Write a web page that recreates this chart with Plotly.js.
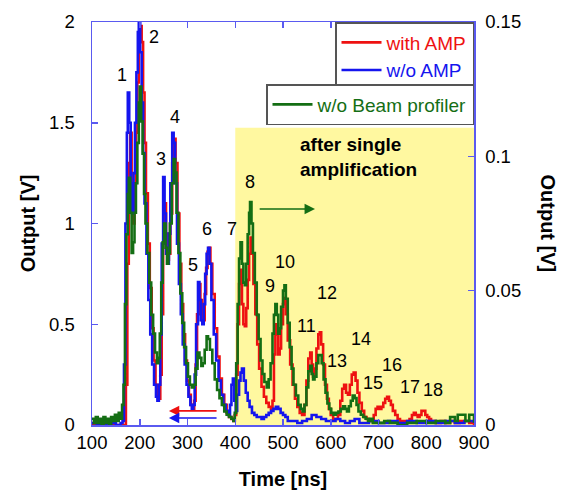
<!DOCTYPE html>
<html>
<head>
<meta charset="utf-8">
<script src="https://cdn.plot.ly/plotly-3.0.1.min.js"></script>
<style>html,body{margin:0;padding:0;background:#fff;}#chart{width:569px;height:491px;}</style>
</head>
<body>
<div id="chart"></div>
<script>
// ---- data: Output [V] vs Time [ns] ----
const timeAmp = [100,168,171,174,177,180,183,186,189,192,195,198,201,204,207,210,213,217,221,225,229,233,237,240,243,246,249,252,255,258,261,264,268,272,275,279,283,287,291,295,299,303,307,311,314,317,320,324,327,330,333,336,339,342,345,348,352,357,362,367,372,377,382,387,392,396,399,402,405,408,411,414,417,420,423,426,429,432,435,438,442,446,450,455,460,465,470,475,478,481,484,487,490,493,496,500,503,506,510,515,520,525,530,535,540,545,549,553,557,560,563,566,570,574,577,580,584,588,592,596,600,605,610,615,620,624,628,632,636,640,644,648,652,656,660,665,670,675,680,686,690,694,698,702,706,710,714,718,722,726,730,735,740,745,750,755,760,765,770,774,778,782,786,790,794,798,802,806,810,820,830,840,850,860,870,880,890,900];
const withAmp = [0,0,0.2,0.8,1.3,1.45,1.2,1.0,1.2,1.45,1.7,1.9,1.98,1.9,1.65,1.4,1.15,0.9,0.68,0.48,0.32,0.2,0.14,0.13,0.25,0.55,0.9,1.1,0.95,0.82,0.85,1.05,1.3,1.42,1.3,1.05,0.8,0.6,0.45,0.32,0.22,0.15,0.1,0.08,0.12,0.3,0.55,0.7,0.62,0.52,0.52,0.65,0.78,0.86,0.88,0.8,0.65,0.48,0.34,0.23,0.15,0.1,0.06,0.04,0.03,0.02,0.05,0.25,0.5,0.7,0.77,0.6,0.5,0.49,0.58,0.72,0.85,0.93,0.85,0.7,0.55,0.4,0.28,0.19,0.14,0.11,0.09,0.08,0.12,0.35,0.5,0.45,0.35,0.38,0.5,0.6,0.63,0.55,0.42,0.3,0.2,0.13,0.09,0.06,0.05,0.1,0.22,0.33,0.36,0.3,0.24,0.28,0.38,0.45,0.46,0.4,0.3,0.2,0.13,0.08,0.05,0.03,0.03,0.05,0.12,0.18,0.2,0.16,0.15,0.2,0.25,0.26,0.22,0.16,0.11,0.07,0.04,0.03,0.02,0.02,0.05,0.08,0.09,0.08,0.09,0.11,0.13,0.14,0.12,0.1,0.07,0.05,0.03,0.02,0.02,0.02,0.02,0.03,0.05,0.06,0.05,0.04,0.05,0.07,0.07,0.05,0.04,0.03,0.02,0.01,0.02,0.01,0.02,0.01,0.02,0.02,0.01,0];

const timeNoAmp = [100,110,120,130,140,150,160,164,167,170,173,175,178,181,184,187,190,193,196,198,201,204,207,210,214,218,222,226,230,234,237,240,243,246,249,252,255,258,261,264,268,271,274,278,282,286,290,294,298,302,306,309,312,315,318,322,325,328,331,334,337,340,343,346,350,355,360,365,370,375,380,385,389,392,395,398,401,404,408,411,414,418,422,426,430,435,440,445,450,455,460,465,470,475,480,485,490,495,500,505,510,520,530,540,550,560,570,580,590,600,610,620,630,640,650,660,680,700,720,740,760,780,800,820,840,860,880,900];
const withoutAmp = [0.01,0,0.01,0,0.01,0,0.01,0.02,0.3,1.0,1.45,1.65,1.5,1.2,1.05,1.25,1.5,1.75,1.95,2.0,1.85,1.6,1.35,1.1,0.85,0.62,0.45,0.3,0.2,0.14,0.12,0.2,0.45,0.9,1.23,1.05,0.85,0.8,0.95,1.2,1.45,1.4,1.2,0.9,0.7,0.55,0.4,0.3,0.2,0.14,0.1,0.08,0.1,0.25,0.5,0.71,0.62,0.52,0.5,0.6,0.75,0.85,0.88,0.8,0.62,0.45,0.32,0.22,0.15,0.1,0.07,0.05,0.1,0.2,0.23,0.12,0.07,0.15,0.22,0.26,0.28,0.22,0.16,0.12,0.09,0.06,0.05,0.04,0.04,0.03,0.04,0.05,0.06,0.07,0.08,0.09,0.08,0.06,0.05,0.04,0.02,0.02,0.01,0.02,0.03,0.05,0.04,0.03,0.02,0.02,0.03,0.02,0.01,0.02,0.03,0.01,0.02,0.01,0.02,0.01,0.02,0.01,0.02,0.01,0.02,0.01,0.02,0.01];

// right axis (0 - 0.15 V)
const timeNoProfiler = [100,104,108,112,116,120,124,128,132,136,140,144,148,152,156,160,163,166,169,172,175,177,180,183,186,189,192,195,198,200,203,206,209,212,216,220,224,228,232,236,239,242,245,248,251,254,257,260,263,267,271,274,277,281,285,289,293,297,301,305,309,313,317,321,325,329,332,336,340,343,347,352,357,362,367,372,377,382,387,392,396,399,402,405,408,411,414,417,420,423,426,429,431,434,437,441,445,449,453,457,461,466,470,474,478,481,484,487,490,493,496,500,503,506,510,514,518,522,527,532,537,541,545,549,553,557,560,563,566,570,574,577,581,585,589,593,597,601,606,611,616,621,626,630,634,638,642,646,650,654,658,663,668,673,678,683,688,700,712,724,740,760,780,800,820,840,850,860,866,875,882,890,900];
const noProfiler = [0.0023,0.0008,0.003,0.0008,0.0023,0,0.003,0.0008,0.0023,0,0.003,0.0015,0.0038,0.0015,0.0045,0.0023,0.0075,0.015,0.045,0.071,0.086,0.092,0.079,0.064,0.068,0.079,0.09,0.105,0.12,0.126,0.113,0.101,0.086,0.075,0.064,0.053,0.041,0.034,0.027,0.023,0.025,0.034,0.053,0.068,0.075,0.066,0.06,0.064,0.075,0.09,0.099,0.094,0.079,0.064,0.049,0.038,0.029,0.023,0.018,0.015,0.014,0.015,0.021,0.027,0.025,0.022,0.023,0.028,0.033,0.032,0.028,0.023,0.017,0.013,0.01,0.0075,0.005,0.0038,0.003,0.0023,0.0015,0.0045,0.023,0.045,0.062,0.068,0.06,0.053,0.052,0.06,0.071,0.079,0.083,0.075,0.064,0.053,0.041,0.032,0.024,0.019,0.016,0.014,0.017,0.023,0.034,0.041,0.045,0.041,0.034,0.036,0.044,0.05,0.052,0.047,0.038,0.029,0.021,0.015,0.011,0.0075,0.006,0.005,0.0075,0.014,0.02,0.022,0.019,0.017,0.018,0.023,0.026,0.026,0.023,0.017,0.012,0.008,0.006,0.0045,0.0038,0.0045,0.005,0.006,0.007,0.006,0.005,0.007,0.009,0.011,0.01,0.0075,0.005,0.0038,0.003,0.0023,0.0015,0.0023,0.0008,0.0008,0.0015,0.0008,0,0.0008,0.0015,0.0008,0.0015,0.0008,0.003,0.0015,0.0038,0.0038,0.0015,0.0038,0.0008];

const peakLabels = ['1','2','3','4','5','6','7','8','9','10','11','12','13','14','15','16','17','18'];
const xTicks = [100,200,300,400,500,600,700,800,900];
const yTicks = [0,0.5,1,1.5,2];
const y2Ticks = [0,0.05,0.1,0.15];
const y2TickText = ['0','0.05','0.1','0.15'];

// ---- layout helpers (positions, not data) ----
const labelPos = [[163,1.737],[230,1.926],[244.5,1.32],[274,1.529],[311.5,0.794],[341,0.973],[393,0.973],[431,1.206],[473,0.69],[504,0.809],[550,0.491],[592,0.655],[613,0.318],[663,0.427],[688.5,0.208],[728,0.298],[766,0.189],[814,0.174]];

const FONT = 'Arial, "Liberation Sans", sans-serif';
const RED = '#ee1111', BLUE = '#1515ee', GREEN = '#146e14', AXIS = '#5a5af0';

const traces = [
  {x: timeAmp, y: withAmp, type:'scatter', mode:'lines', line:{color:RED, width:2.6, shape:'hv'},
   name:'<span style="color:'+RED+'">with AMP</span>', legend:'legend'},
  {x: timeNoAmp, y: withoutAmp, type:'scatter', mode:'lines', line:{color:BLUE, width:2.6, shape:'hv'},
   name:'<span style="color:'+BLUE+'">w/o AMP</span>', legend:'legend'},
  {x: timeNoProfiler, y: noProfiler, type:'scatter', mode:'lines', yaxis:'y2', line:{color:GREEN, width:2.6, shape:'hv'},
   name:'<span style="color:'+GREEN+'">w/o Beam profiler</span>', legend:'legend2'}
];

const annotations = peakLabels.map((t,i)=>({x:labelPos[i][0], y:labelPos[i][1], xref:'x', yref:'y', text:t, showarrow:false, font:{family:FONT, size:18, color:'#000'}}));
annotations.push({x:531, y:1.33, xref:'x', yref:'y', xanchor:'left', align:'left', text:'<b>after single<br>amplification</b>', showarrow:false, font:{family:FONT, size:19, color:'#000'}});
annotations.push({x:261, y:0.07, ax:364, ay:0.07, xref:'x', yref:'y', axref:'x', ayref:'y', text:'', showarrow:true, arrowhead:2, arrowsize:1.3, arrowwidth:1.6, arrowcolor:RED});
annotations.push({x:261, y:0.035, ax:364, ay:0.035, xref:'x', yref:'y', axref:'x', ayref:'y', text:'', showarrow:true, arrowhead:2, arrowsize:1.3, arrowwidth:1.6, arrowcolor:BLUE});
annotations.push({x:567, y:0.0804, ax:448, ay:0.0804, xref:'x', yref:'y2', axref:'x', ayref:'y2', text:'', showarrow:true, arrowhead:2, arrowsize:1.3, arrowwidth:1.6, arrowcolor:GREEN});
annotations.push({x:(548-92)/382, y:0.5, xref:'paper', yref:'paper', text:'<b>Output [V]</b>', textangle:90, showarrow:false, font:{family:FONT, size:20, color:'#000'}, xanchor:'center', yanchor:'middle'});

const layout = {
  width:569, height:491,
  margin:{l:92, r:95, t:22, b:66, pad:0},
  paper_bgcolor:'#fff', plot_bgcolor:'#fff',
  font:{family:FONT, size:18, color:'#000'},
  xaxis:{range:[100,900], tickvals:xTicks, ticks:'inside', ticklen:6, tickwidth:1.5, tickcolor:AXIS,
         showline:true, linecolor:AXIS, linewidth:1.5, mirror:'ticks', showgrid:false, zeroline:false,
         tickfont:{family:FONT, size:18.5, color:'#000'},
         title:{text:'<b>Time [ns]</b>', font:{family:FONT, size:20, color:'#000'}, standoff:20}},
  yaxis:{range:[0,2], tickvals:yTicks, ticks:'inside', ticklen:6, tickwidth:1.5, tickcolor:AXIS,
         showline:true, linecolor:AXIS, linewidth:1.5, showgrid:false, zeroline:false,
         ticklabelstandoff:12,
         tickfont:{family:FONT, size:18.5, color:'#000'},
         title:{text:'<b>Output [V]</b>', font:{family:FONT, size:20, color:'#000'}, standoff:8}},
  yaxis2:{range:[0,0.15], overlaying:'y', side:'right', tickvals:y2Ticks, ticktext:y2TickText, ticks:'inside', ticklen:6, tickwidth:1.5, tickcolor:AXIS,
         showline:true, linecolor:AXIS, linewidth:1.5, showgrid:false, zeroline:false,
         ticklabelstandoff:6, tickfont:{family:FONT, size:18.5, color:'#000'}},
  shapes:[{type:'rect', xref:'x', yref:'y', x0:400, x1:900, y0:0, y1:1.475, fillcolor:'#fff8a0', line:{width:0}, layer:'below'}],
  legend:{x:1, y:1, xanchor:'right', yanchor:'top', bgcolor:'#fff', bordercolor:'#555', borderwidth:1.5,
          font:{family:FONT, size:19}, itemwidth:40},
  legend2:{x:1, y:(425-84)/403, xanchor:'right', yanchor:'top', bgcolor:'#fff', bordercolor:'#555', borderwidth:1.5,
          font:{family:FONT, size:19}, itemwidth:40},
  showlegend:true,
  annotations:annotations
};

Plotly.newPlot('chart', traces, layout, {staticPlot:true, displayModeBar:false});
</script>
</body>
</html>
